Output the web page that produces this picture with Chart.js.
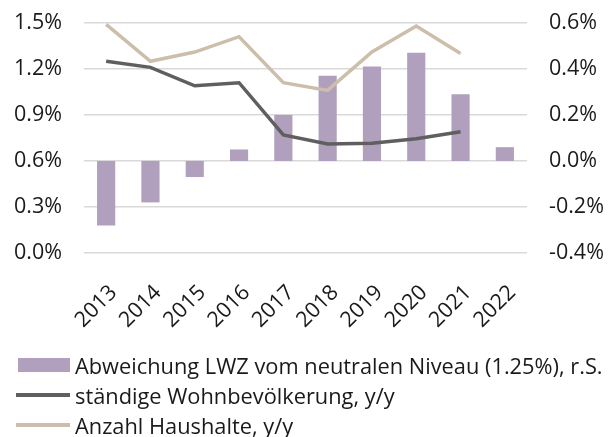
<!DOCTYPE html>
<html>
<head>
<meta charset="utf-8">
<script src="https://cdn.jsdelivr.net/npm/chart.js@4/dist/chart.umd.min.js"></script>
<style>
  html, body { margin: 0; padding: 0; background: #ffffff; }
  #wrap { position: relative; width: 612px; height: 437px; overflow: hidden; }
  #c { position: absolute; left: 0; top: -12px; }
  #legend { position: absolute; left: 0; top: 0; width: 612px; font-family: "Open Sans", sans-serif; font-size: 21.8px; color: #1a1a1a; }
  .item { position: absolute; left: 16px; height: 28px; display: flex; align-items: center; white-space: nowrap; }
  .sw { width: 54px; margin-right: 5px; }
</style>
</head>
<body>
<div id="wrap">
  <canvas id="c" width="612" height="449"></canvas>
  <div id="legend"></div>
</div>
<script>
const years = ['2013','2014','2015','2016','2017','2018','2019','2020','2021','2022'];
const lwzAbweichung = [-0.28, -0.18, -0.07, 0.05, 0.20, 0.37, 0.41, 0.47, 0.29, 0.06];
const bevoelkerung = [1.25, 1.21, 1.09, 1.11, 0.77, 0.71, 0.715, 0.745, 0.79, null];
const haushalte = [1.49, 1.25, 1.31, 1.41, 1.11, 1.06, 1.31, 1.48, 1.30, null];
const seriesNames = ['Abweichung LWZ vom neutralen Niveau (1.25%), r.S.', 'ständige Wohnbevölkerung, y/y', 'Anzahl Haushalte, y/y'];
const leftTicks = [0.0, 0.3, 0.6, 0.9, 1.2, 1.5];
const rightTicks = [-0.4, -0.2, 0.0, 0.2, 0.4, 0.6];

const colBar = '#b09fbd', colDark = '#5f5f5f', colBeige = '#cdbeac';
const tickFont = { family: '"Open Sans", sans-serif', size: 21.5 };

new Chart(document.getElementById('c'), {
  data: {
    labels: years,
    datasets: [
      { type: 'line', label: seriesNames[1], data: bevoelkerung, yAxisID: 'yL', borderColor: colDark, borderWidth: 3.5, pointRadius: 0, tension: 0, order: 1 },
      { type: 'line', label: seriesNames[2], data: haushalte, yAxisID: 'yL', borderColor: colBeige, borderWidth: 3.5, pointRadius: 0, tension: 0, order: 2 },
      { type: 'bar', label: seriesNames[0], data: lwzAbweichung, yAxisID: 'yR', backgroundColor: colBar, barPercentage: 0.41, categoryPercentage: 1.0, order: 3 }
    ]
  },
  options: {
    responsive: false,
    animation: false,
    events: [],
    layout: { padding: { top: 10, left: 0, right: 0, bottom: 0 } },
    plugins: { legend: { display: false }, tooltip: { enabled: false } },
    scales: {
      x: {
        grid: { display: false },
        border: { display: false },
        ticks: { font: tickFont, color: '#1a1a1a', maxRotation: 45, minRotation: 45, padding: 19, labelOffset: 7.5, autoSkip: false },
        afterFit: s => { s.height = 184; }
      },
      yL: {
        position: 'left', min: 0, max: 1.5,
        afterBuildTicks: s => { s.ticks = leftTicks.map(v => ({ value: v })); },
        grid: { color: '#d9d9d9', lineWidth: 1.5, drawTicks: false },
        border: { display: false },
        ticks: { font: tickFont, color: '#1a1a1a', padding: 22, callback: v => v.toFixed(1) + '%' },
        afterFit: s => { s.width = 84; }
      },
      yR: {
        position: 'right', min: -0.4, max: 0.6,
        afterBuildTicks: s => { s.ticks = rightTicks.map(v => ({ value: v })); },
        grid: { display: false, drawTicks: false },
        border: { display: false },
        ticks: { font: tickFont, color: '#1a1a1a', padding: 22, callback: v => v.toFixed(1) + '%' },
        afterFit: s => { s.width = 85; }
      }
    }
  }
});

// HTML legend built from the series names and colours
const legend = document.getElementById('legend');
const legendRows = [
  { name: seriesNames[0], color: colBar, kind: 'box', top: 351 },
  { name: seriesNames[1], color: colDark, kind: 'line', top: 381 },
  { name: seriesNames[2], color: colBeige, kind: 'line', top: 411 }
];
legendRows.forEach(r => {
  const it = document.createElement('div');
  it.className = 'item';
  it.style.top = r.top + 'px';
  const sw = document.createElement('div');
  sw.className = 'sw';
  sw.style.background = r.color;
  sw.style.height = r.kind === 'box' ? '14px' : '3.5px';
  if (r.kind === 'box') { sw.style.width = '52px'; sw.style.marginLeft = '2px'; }
  const tx = document.createElement('span');
  tx.textContent = r.name;
  it.appendChild(sw); it.appendChild(tx);
  legend.appendChild(it);
});
</script>
</body>
</html>
